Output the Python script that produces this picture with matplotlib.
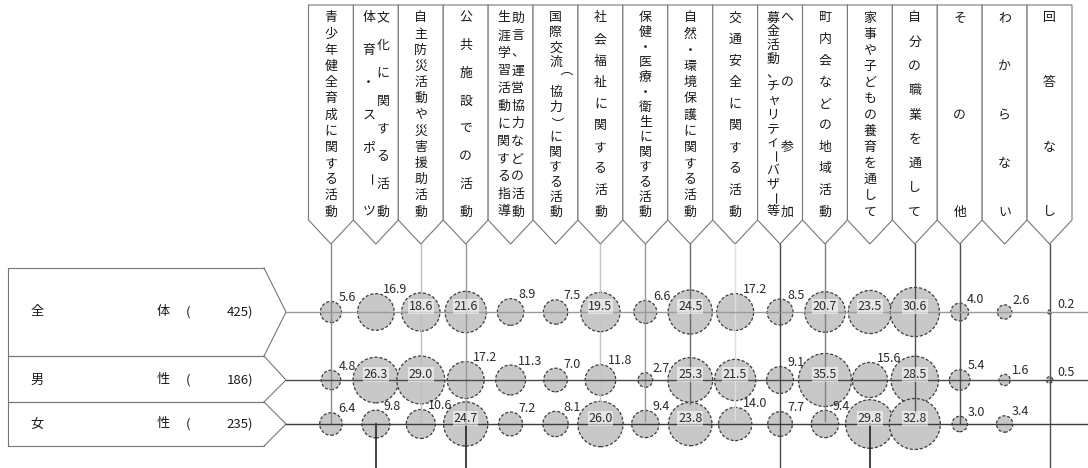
import numpy as np
import matplotlib
matplotlib.use('Agg')
import matplotlib.pyplot as plt
from matplotlib.patches import Polygon

plt.rcParams['font.family'] = ['Noto Sans CJK JP', 'DejaVu Sans']

# ---- data ----
headers = [
    ['青少年健全育成に関する活動'],
    ['文化に関する活動', '体育・スポーツ'],
    ['自主防災活動や災害援助活動'],
    ['公共施設での活動'],
    ['助言、運営協力などの活動', '生涯学習活動に関する指導'],
    ['国際交流（協力）に関する活動'],
    ['社会福祉に関する活動'],
    ['保健・医療・衛生に関する活動'],
    ['自然・環境保護に関する活動'],
    ['交通安全に関する活動'],
    ['への参加', '募金活動、チャリティーバザー等'],
    ['町内会などの地域活動'],
    ['家事や子どもの養育を通して'],
    ['自分の職業を通して'],
    ['その他'],
    ['わからない'],
    ['回答なし'],
]
row_names = [('全', '体'), ('男', '性'), ('女', '性')]
row_n = [425, 186, 235]
total = [5.6, 16.9, 18.6, 21.6, 8.9, 7.5, 19.5, 6.6, 24.5, 17.2, 8.5, 20.7, 23.5, 30.6, 4.0, 2.6, 0.2]
male = [4.8, 26.3, 29.0, 17.2, 11.3, 7.0, 11.8, 2.7, 25.3, 21.5, 9.1, 35.5, 15.6, 28.5, 5.4, 1.6, 0.5]
female = [6.4, 9.8, 10.6, 24.7, 7.2, 8.1, 26.0, 9.4, 23.8, 14.0, 7.7, 9.4, 29.8, 32.8, 3.0, 3.4, 0.0]
values = [total, male, female]

# ---- layout (pixels) ----
W, H = 1088, 468
X0, X1 = 308.5, 1072
ncol = len(headers)
cw = (X1 - X0) / ncol
col_x = X0 + cw * (np.arange(ncol) + 0.5)
row_y = [312, 380, 424]
HEAD_TOP, HEAD_SIDE, HEAD_TIP = 5, 220, 244
K = 4.45  # bubble radius px per sqrt(%)

# vertical guide lines below the header tips
upper_end = [424, None, 422, 424, None, None, 418, 421, 404, 420, H, 421, None, 413, 424, None, H]
upper_col = ['#8a8a8a', None, '#bdbdbd', '#9a9a9a', None, None, '#c4c4c4', '#9a9a9a', '#6a6a6a',
             '#dedede', '#4a4a4a', '#808080', None, '#505050', '#505050', None, '#505050']
lower_cols = [1, 3, 12]

fig = plt.figure(figsize=(W / 100, H / 100), dpi=100)
ax = fig.add_axes([0, 0, 1, 1])
ax.set_xlim(0, W)
ax.set_ylim(H, 0)
ax.axis('off')

edge = '#777777'
txt = '#1a1a1a'
# header boxes with vertical text
for i, lines in enumerate(headers):
    L, R, C = col_x[i] - cw / 2, col_x[i] + cw / 2, col_x[i]
    ax.add_patch(Polygon([(L, HEAD_TOP), (R, HEAD_TOP), (R, HEAD_SIDE), (C, HEAD_TIP), (L, HEAD_SIDE)],
                         closed=True, fc='white', ec=edge, lw=0.8, zorder=1))
    offs = [0] if len(lines) == 1 else [7, -7]
    for line, dx in zip(lines, offs):
        ys = np.linspace(18, 212, len(line)) if len(line) > 1 else [18]
        for ch, y in zip(line, ys):
            rot = -90 if ch in 'ー（）' else 0
            ax.text(C + dx, y, ch, ha='center', va='center', fontsize=9.3,
                    rotation=rot, color=txt, zorder=5)

for i in range(ncol):
    if upper_end[i] is not None:
        ax.plot([col_x[i], col_x[i]], [HEAD_TIP, upper_end[i]], color=upper_col[i], lw=1.0, zorder=3)
for i in lower_cols:
    ax.plot([col_x[i], col_x[i]], [row_y[2], H], color='#222222', lw=1.2, zorder=3)

# left label boxes
BL, BR, BT = 8, 264, 286
bounds = [268, 356, 402, 446]
ax.plot([BL, BL], [bounds[0], bounds[-1]], color=edge, lw=0.8)
for k in range(3):
    top, bot, y = bounds[k], bounds[k + 1], row_y[k]
    ax.plot([BL, BR], [top, top], color=edge, lw=0.8)
    ax.plot([BL, BR], [bot, bot], color=edge, lw=0.8)
    ax.plot([BR, BT, BR], [top, y, bot], color=edge, lw=0.8)
    ax.text(37, y, row_names[k][0], ha='center', va='center', fontsize=9.5, color=txt)
    ax.text(163, y, row_names[k][1], ha='center', va='center', fontsize=9.5, color=txt)
    ax.text(188, y, '(', ha='center', va='center', fontsize=9.5, color=txt)
    ax.text(253, y, f'{row_n[k]})', ha='right', va='center', fontsize=9.5, color=txt)

row_line_col = ['#9a9a9a', '#4a4a4a', '#3a3a3a']
for k in range(3):
    ax.plot([BT, W], [row_y[k], row_y[k]], color=row_line_col[k], lw=1.0, zorder=3)

# bubbles
for k, vals in enumerate(values):
    v = np.array(vals)
    m = v > 0
    ax.scatter(col_x[m], np.full(m.sum(), row_y[k]), s=41.06 * v[m], c='#c8c8c8',
               edgecolors='#3d3d3d', linewidths=0.9, linestyles=(0, (2.5, 1.5)), zorder=2)
    for i in np.where(m)[0]:
        r = K * np.sqrt(v[i])
        if v[i] >= 18:
            ax.text(col_x[i], row_y[k] - 2, f'{v[i]:.1f}', ha='center', va='baseline',
                    fontsize=9, color='#2a2a2a', zorder=5,
                    bbox=dict(boxstyle='square,pad=0.05', fc='white', ec='none', alpha=0.55))
        else:
            ax.text(col_x[i] + 7.5, row_y[k] - max(r, 4) - 0.5, f'{v[i]:.1f}', ha='left',
                    va='baseline', fontsize=9, color='#2a2a2a', zorder=5)

fig.savefig('out.png', dpi=100)
